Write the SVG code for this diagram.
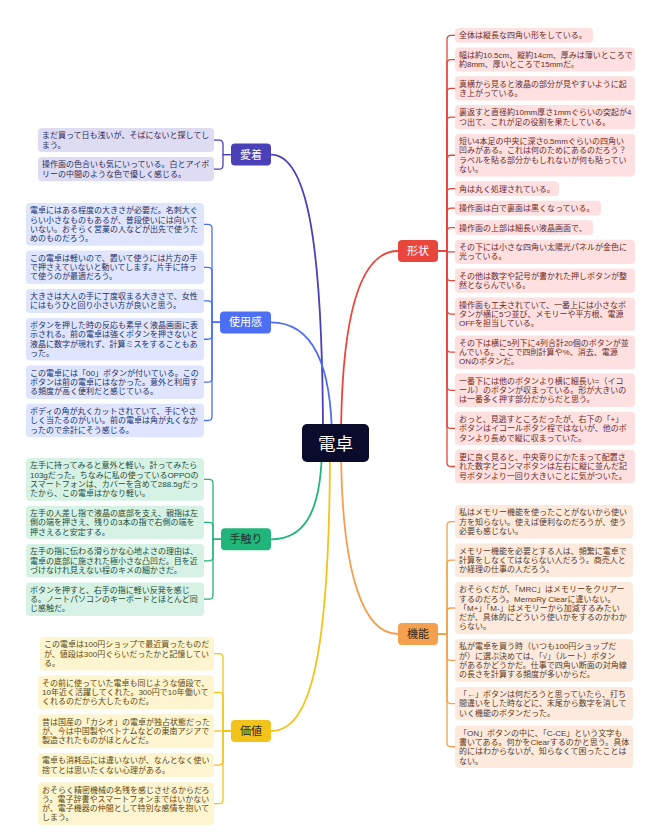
<svg xmlns="http://www.w3.org/2000/svg" width="654" height="836" viewBox="0 0 654 836">
<style>
text{font-family:"Noto Sans CJK JP","Noto Sans",sans-serif}
.lf text{font-family:"Liberation Sans","Noto Sans CJK JP",sans-serif;font-size:8px}
.cat{font-size:11px;text-anchor:middle}
.w{fill:#ffffff}.d{fill:#2a2a2a}
.r1{fill:#fde0df}.t1{fill:#6b2b2b}
.r2{fill:#fdeadc}.t2{fill:#5a3a1e}
.r3{fill:#dedcf3}.t3{fill:#2c2a55}
.r4{fill:#dfe5fd}.t4{fill:#22306a}
.r5{fill:#d5f2e5}.t5{fill:#1f4d3a}
.r6{fill:#fdf4d0}.t6{fill:#5a4a12}
.c{fill:none;stroke-width:1.3}
.m{fill:none;stroke-width:1.8}
.k1{stroke:#e8453c}.k2{stroke:#f3a04f}.k3{stroke:#4a40b8}.k4{stroke:#4d6ff5}.k5{stroke:#20b57a}.k6{stroke:#f2c31b}
</style>
<rect width="654" height="836" fill="#ffffff"/>
<g id="connectors">
<path class="m k3" d="M271 154.6 C305 154.6 323 230 323 443"/>
<path class="m k4" d="M271 322.4 C305 322.4 332 350 332 443"/>
<path class="m k1" d="M398 251 C365 251 341 300 341 443"/>
<path class="m k5" d="M271 539.3 C300 539.3 322 520 322 443"/>
<path class="m k6" d="M271 731 C310 731 330 660 330 443"/>
<path class="m k2" d="M398 634 C365 634 341 580 341 443"/>
<g class="c k3">
<path d="M231 154.6 H223 V144.05 Q223 140.05 219 140.05 H214"/>
<path d="M231 154.6 H223 V165.15 Q223 169.15 219 169.15 H214"/>
</g>
<g class="c k4">
<path d="M220 322.4 H212 V228.35 Q212 224.35 208 224.35 H204"/>
<path d="M220 322.4 H212 V271.3 Q212 267.3 208 267.3 H204"/>
<path d="M220 322.4 H212 V304.95 Q212 300.95 208 300.95 H204"/>
<path d="M220 322.4 H212 V335.25 Q212 339.25 208 339.25 H204"/>
<path d="M220 322.4 H212 V378.2 Q212 382.2 208 382.2 H204"/>
<path d="M220 322.4 H212 V416.5 Q212 420.5 208 420.5 H204"/>
</g>
<g class="c k5">
<path d="M221 539.3 H213 V483.35 Q213 479.35 209 479.35 H204"/>
<path d="M221 539.3 H213 V526.4 Q213 522.4 209 522.4 H204"/>
<path d="M221 539.3 H213 V556.8 Q213 560.8 209 560.8 H204"/>
<path d="M221 539.3 H213 V595.2 Q213 599.2 209 599.2 H204"/>
</g>
<g class="c k6">
<path d="M231 731 H223 V657.7 Q223 653.7 219 653.7 H214"/>
<path d="M231 731 H223 V696.3 Q223 692.3 219 692.3 H214"/>
<path d="M231 731 H214"/>
<path d="M231 731 H223 V761.05 Q223 765.05 219 765.05 H214"/>
<path d="M231 731 H223 V799.65 Q223 803.65 219 803.65 H214"/>
</g>
<g class="c k1">
<path d="M438 251 H447 V39.4 Q447 35.4 451 35.4 H455"/>
<path d="M438 251 H447 V63.55 Q447 59.55 451 59.55 H455"/>
<path d="M438 251 H447 V92.35 Q447 88.35 451 88.35 H455"/>
<path d="M438 251 H447 V121.15 Q447 117.15 451 117.15 H455"/>
<path d="M438 251 H447 V159.25 Q447 155.25 451 155.25 H455"/>
<path d="M438 251 H447 V192.7 Q447 188.7 451 188.7 H455"/>
<path d="M438 251 H447 V212.2 Q447 208.2 451 208.2 H455"/>
<path d="M438 251 H447 V231.7 Q447 227.7 451 227.7 H455"/>
<path d="M438 251 H447 V251.85 H455"/>
<path d="M438 251 H447 V276.65 Q447 280.65 451 280.65 H455"/>
<path d="M438 251 H447 V310.1 Q447 314.1 451 314.1 H455"/>
<path d="M438 251 H447 V348.2 Q447 352.2 451 352.2 H455"/>
<path d="M438 251 H447 V386.3 Q447 390.3 451 390.3 H455"/>
<path d="M438 251 H447 V424.4 Q447 428.4 451 428.4 H455"/>
<path d="M438 251 H447 V462.5 Q447 466.5 451 466.5 H455"/>
</g>
<g class="c k2">
<path d="M438 634 H447 V525.7 Q447 521.7 451 521.7 H455"/>
<path d="M438 634 H447 V564.2 Q447 560.2 451 560.2 H455"/>
<path d="M438 634 H447 V612 Q447 608 451 608 H455"/>
<path d="M438 634 H447 V656.45 Q447 660.45 451 660.45 H455"/>
<path d="M438 634 H447 V699.6 Q447 703.6 451 703.6 H455"/>
<path d="M438 634 H447 V742.75 Q447 746.75 451 746.75 H455"/>
</g>
</g>

<g id="root">
<rect x="302" y="424" width="67" height="38" rx="5" fill="#0b0b2c"/>
<text x="335.5" y="449.5" font-size="17.5" text-anchor="middle" fill="#ffffff">電卓</text>
</g>

<g id="cat-keijo"><rect x="398" y="240" width="40" height="22" rx="4" fill="#e8453c"/><text class="cat w" x="418" y="255">形状</text></g>
<g id="cat-kino"><rect x="398" y="623" width="40" height="22" rx="4" fill="#f3a04f"/><text class="cat d" x="418" y="638">機能</text></g>
<g id="cat-aichaku"><rect x="231" y="143.6" width="40" height="22" rx="4" fill="#4a40b8"/><text class="cat w" x="251" y="158.6">愛着</text></g>
<g id="cat-shiyokan"><rect x="220" y="311.4" width="51" height="22" rx="4" fill="#4d6ff5"/><text class="cat w" x="245.5" y="326.4">使用感</text></g>
<g id="cat-tezawari"><rect x="221" y="528.3" width="50" height="22" rx="4" fill="#20b57a"/><text class="cat d" x="246" y="543.3">手触り</text></g>
<g id="cat-kachi"><rect x="231" y="720" width="40" height="22" rx="4" fill="#f2c31b"/><text class="cat d" x="251" y="735">価値</text></g>

<!-- 形状 leaves -->
<g id="k1" class="lf t1"><rect class="r1" x="455" y="28" width="138" height="14.8" rx="4"/><text x="459" y="38.2">全体は縦長な四角い形をしている。</text></g>
<g id="k2" class="lf t1"><rect class="r1" x="455" y="47.5" width="180" height="24.1" rx="4"/><text y="57.7"><tspan x="459">幅は約10.5cm、縦約14cm、厚みは薄いところで</tspan><tspan x="459" dy="9.3">約8mm、厚いところで15mmだ。</tspan></text></g>
<g id="k3" class="lf t1"><rect class="r1" x="455" y="76.3" width="180" height="24.1" rx="4"/><text y="86.5"><tspan x="459">真横から見ると液晶の部分が見やすいように起</tspan><tspan x="459" dy="9.3">き上がっている。</tspan></text></g>
<g id="k4" class="lf t1"><rect class="r1" x="455" y="105.1" width="180" height="24.1" rx="4"/><text y="115.3"><tspan x="459">裏返すと直径約10mm厚さ1mmぐらいの突起が4</tspan><tspan x="459" dy="9.3">つ出て、これが足の役割を果たしている。</tspan></text></g>
<g id="k5" class="lf t1"><rect class="r1" x="455" y="133.9" width="180" height="42.7" rx="4"/><text y="144.1"><tspan x="459">短い4本足の中央に深さ0.5mmぐらいの四角い</tspan><tspan x="459" dy="9.3">凹みがある。これは何のためにあるのだろう？</tspan><tspan x="459" dy="9.3">ラベルを貼る部分かもしれないが何も貼ってい</tspan><tspan x="459" dy="9.3">ない。</tspan></text></g>
<g id="k6" class="lf t1"><rect class="r1" x="455" y="181.3" width="104" height="14.8" rx="4"/><text x="459" y="191.5">角は丸く処理されている。</text></g>
<g id="k7" class="lf t1"><rect class="r1" x="455" y="200.8" width="146" height="14.8" rx="4"/><text x="459" y="211">操作面は白で裏面は黒くなっている。</text></g>
<g id="k8" class="lf t1"><rect class="r1" x="455" y="220.3" width="138" height="14.8" rx="4"/><text x="459" y="230.5">操作面の上部は細長い液晶画面で、</text></g>
<g id="k9" class="lf t1"><rect class="r1" x="455" y="239.8" width="180" height="24.1" rx="4"/><text y="250"><tspan x="459">その下には小さな四角い太陽光パネルが金色に</tspan><tspan x="459" dy="9.3">光っている。</tspan></text></g>
<g id="k10" class="lf t1"><rect class="r1" x="455" y="268.6" width="180" height="24.1" rx="4"/><text y="278.8"><tspan x="459">その他は数字や記号が書かれた押しボタンが整</tspan><tspan x="459" dy="9.3">然とならんでいる。</tspan></text></g>
<g id="k11" class="lf t1"><rect class="r1" x="455" y="297.4" width="180" height="33.4" rx="4"/><text y="307.6"><tspan x="459">操作面も工夫されていて、一番上には小さなボ</tspan><tspan x="459" dy="9.3">タンが横に5つ並び、メモリーや平方根、電源</tspan><tspan x="459" dy="9.3">OFFを担当している。</tspan></text></g>
<g id="k12" class="lf t1"><rect class="r1" x="455" y="335.5" width="180" height="33.4" rx="4"/><text y="345.7"><tspan x="459">その下は横に5列下に4列合計20個のボタンが並</tspan><tspan x="459" dy="9.3">んでいる。ここで四則計算や%、消去、電源</tspan><tspan x="459" dy="9.3">ONのボタンだ。</tspan></text></g>
<g id="k13" class="lf t1"><rect class="r1" x="455" y="373.6" width="180" height="33.4" rx="4"/><text y="383.8"><tspan x="459">一番下には他のボタンより横に細長い=（イコ</tspan><tspan x="459" dy="9.3">ール）のボタンが収まっている。形が大きいの</tspan><tspan x="459" dy="9.3">は一番多く押す部分だからだと思う。</tspan></text></g>
<g id="k14" class="lf t1"><rect class="r1" x="455" y="411.7" width="180" height="33.4" rx="4"/><text y="421.9"><tspan x="459">おっと、見逃すところだったが、右下の「+」</tspan><tspan x="459" dy="9.3">ボタンはイコールボタン程ではないが、他のボ</tspan><tspan x="459" dy="9.3">タンより長めで縦に収まっていた。</tspan></text></g>
<g id="k15" class="lf t1"><rect class="r1" x="455" y="449.8" width="180" height="33.4" rx="4"/><text y="460"><tspan x="459">更に良く見ると、中央寄りにかたまって配置さ</tspan><tspan x="459" dy="9.3">れた数字とコンマボタンは左右に縦に並んだ記</tspan><tspan x="459" dy="9.3">号ボタンより一回り大きいことに気がついた。</tspan></text></g>

<!-- 機能 leaves -->
<g id="f1" class="lf t2"><rect class="r2" x="455" y="505" width="178" height="33.4" rx="4"/><text y="515.2"><tspan x="459">私はメモリー機能を使ったことがないから使い</tspan><tspan x="459" dy="9.3">方を知らない。使えば便利なのだろうが、使う</tspan><tspan x="459" dy="9.3">必要も感じない。</tspan></text></g>
<g id="f2" class="lf t2"><rect class="r2" x="455" y="543.5" width="178" height="33.4" rx="4"/><text y="553.7"><tspan x="459">メモリー機能を必要とする人は、頻繁に電卓で</tspan><tspan x="459" dy="9.3">計算をしなくてはならない人だろう。商売人と</tspan><tspan x="459" dy="9.3">か経理の仕事の人だろう。</tspan></text></g>
<g id="f3" class="lf t2"><rect class="r2" x="455" y="582" width="178" height="52" rx="4"/><text y="592.2"><tspan x="459">おそらくだが、「MRC」はメモリーをクリアー</tspan><tspan x="459" dy="9.3">するのだろう。MemoRy Clearに違いない。</tspan><tspan x="459" dy="9.3">「M+」「M-」はメモリーから加減するみたい</tspan><tspan x="459" dy="9.3">だが、具体的にどういう使いかをするのかわか</tspan><tspan x="459" dy="9.3">らない。</tspan></text></g>
<g id="f4" class="lf t2"><rect class="r2" x="455" y="639.1" width="178" height="42.7" rx="4"/><text y="649.3"><tspan x="459">私が電卓を買う時（いつも100円ショップだ</tspan><tspan x="459" dy="9.3">が）に選ぶ決めては、「√」（ルート）ボタン</tspan><tspan x="459" dy="9.3">があるかどうかだ。仕事で四角い断面の対角線</tspan><tspan x="459" dy="9.3">の長さを計算する頻度が多いからだ。</tspan></text></g>
<g id="f5" class="lf t2"><rect class="r2" x="455" y="686.9" width="178" height="33.4" rx="4"/><text y="697.1"><tspan x="459">「←」ボタンは何だろうと思っていたら、打ち</tspan><tspan x="459" dy="9.3">間違いをした時などに、末尾から数字を消して</tspan><tspan x="459" dy="9.3">いく機能のボタンだった。</tspan></text></g>
<g id="f6" class="lf t2"><rect class="r2" x="455" y="725.4" width="178" height="42.7" rx="4"/><text y="735.6"><tspan x="459">「ON」ボタンの中に、「C-CE」という文字も</tspan><tspan x="459" dy="9.3">書いてある。何かをClearするのかと思う。具体</tspan><tspan x="459" dy="9.3">的にはわからないが、知らなくて困ったことは</tspan><tspan x="459" dy="9.3">ない。</tspan></text></g>

<!-- 愛着 leaves -->
<g id="a1" class="lf t3"><rect class="r3" x="38" y="128" width="176" height="24.1" rx="4"/><text y="138.2"><tspan x="42">まだ買って日も浅いが、そばにないと探してし</tspan><tspan x="42" dy="9.3">まう。</tspan></text></g>
<g id="a2" class="lf t3"><rect class="r3" x="38" y="157.1" width="176" height="24.1" rx="4"/><text y="167.3"><tspan x="42">操作面の色合いも気にいっている。白とアイボ</tspan><tspan x="42" dy="9.3">リーの中間のような色で優しく感じる。</tspan></text></g>

<!-- 使用感 leaves -->
<g id="s1" class="lf t4"><rect class="r4" x="26" y="203" width="178" height="42.7" rx="4"/><text y="213.2"><tspan x="30">電卓にはある程度の大きさが必要だ。名刺大ぐ</tspan><tspan x="30" dy="9.3">らい小さなものもあるが、普段使いには向いて</tspan><tspan x="30" dy="9.3">いない。おそらく営業の人などが出先で使うた</tspan><tspan x="30" dy="9.3">めのものだろう。</tspan></text></g>
<g id="s2" class="lf t4"><rect class="r4" x="26" y="250.6" width="178" height="33.4" rx="4"/><text y="260.8"><tspan x="30">この電卓は軽いので、置いて使うには片方の手</tspan><tspan x="30" dy="9.3">で押さえていないと動いてします。片手に持っ</tspan><tspan x="30" dy="9.3">て使うのが最適だろう。</tspan></text></g>
<g id="s3" class="lf t4"><rect class="r4" x="26" y="288.9" width="178" height="24.1" rx="4"/><text y="299.1"><tspan x="30">大きさは大人の手に丁度収まる大きさで、女性</tspan><tspan x="30" dy="9.3">にはもうひと回り小さい方が良いと思う。</tspan></text></g>
<g id="s4" class="lf t4"><rect class="r4" x="26" y="317.9" width="178" height="42.7" rx="4"/><text y="328.1"><tspan x="30">ボタンを押した時の反応も素早く液晶画面に表</tspan><tspan x="30" dy="9.3">示される。前の電卓は強くボタンを押さないと</tspan><tspan x="30" dy="9.3">液晶に数字が現れず、計算ミスをすることもあ</tspan><tspan x="30" dy="9.3">った。</tspan></text></g>
<g id="s5" class="lf t4"><rect class="r4" x="26" y="365.5" width="178" height="33.4" rx="4"/><text y="375.7"><tspan x="30">この電卓には「00」ボタンが付いている。この</tspan><tspan x="30" dy="9.3">ボタンは前の電卓にはなかった。意外と利用す</tspan><tspan x="30" dy="9.3">る頻度が高く便利だと感じている。</tspan></text></g>
<g id="s6" class="lf t4"><rect class="r4" x="26" y="403.8" width="178" height="33.4" rx="4"/><text y="414"><tspan x="30">ボディの角が丸くカットされていて、手にやさ</tspan><tspan x="30" dy="9.3">しく当たるのがいい。前の電卓は角が丸くなか</tspan><tspan x="30" dy="9.3">ったので余計にそう感じる。</tspan></text></g>

<!-- 手触り leaves -->
<g id="h1" class="lf t5"><rect class="r5" x="26" y="458" width="178" height="42.7" rx="4"/><text y="468.2"><tspan x="30">左手に持ってみると意外と軽い。計ってみたら</tspan><tspan x="30" dy="9.3">103gだった。ちなみに私の使っているOPPOの</tspan><tspan x="30" dy="9.3">スマートフォンは、カバーを含めて288.5gだっ</tspan><tspan x="30" dy="9.3">たから、この電卓はかなり軽い。</tspan></text></g>
<g id="h2" class="lf t5"><rect class="r5" x="26" y="505.7" width="178" height="33.4" rx="4"/><text y="515.9"><tspan x="30">左手の人差し指で液晶の底部を支え、親指は左</tspan><tspan x="30" dy="9.3">側の端を押さえ、残りの3本の指で右側の端を</tspan><tspan x="30" dy="9.3">押さえると安定する。</tspan></text></g>
<g id="h3" class="lf t5"><rect class="r5" x="26" y="544.1" width="178" height="33.4" rx="4"/><text y="554.3"><tspan x="30">左手の指に伝わる滑らかな心地よさの理由は、</tspan><tspan x="30" dy="9.3">電卓の底部に施された極小さな凸凹だ。目を近</tspan><tspan x="30" dy="9.3">づけなけれ見えない程のキメの細かさだ。</tspan></text></g>
<g id="h4" class="lf t5"><rect class="r5" x="26" y="582.5" width="178" height="33.4" rx="4"/><text y="592.7"><tspan x="30">ボタンを押すと、右手の指に軽い反発を感じ</tspan><tspan x="30" dy="9.3">る。ノートパソコンのキーボードとほとんど同</tspan><tspan x="30" dy="9.3">じ感触だ。</tspan></text></g>

<!-- 価値 leaves -->
<g id="v1" class="lf t6"><rect class="r6" x="40" y="637" width="174" height="33.4" rx="4"/><text y="647.2"><tspan x="44">この電卓は100円ショップで最近買ったものだ</tspan><tspan x="44" dy="9.3">が、値段は300円ぐらいだったかと記憶してい</tspan><tspan x="44" dy="9.3">る。</tspan></text></g>
<g id="v2" class="lf t6"><rect class="r6" x="38" y="675.6" width="176" height="33.4" rx="4"/><text y="685.8"><tspan x="42">その前に使っていた電卓も同じような値段で、</tspan><tspan x="42" dy="9.3">10年近く活躍してくれた。300円で10年働いて</tspan><tspan x="42" dy="9.3">くれるのだから大したものだ。</tspan></text></g>
<g id="v3" class="lf t6"><rect class="r6" x="38" y="714.3" width="176" height="33.4" rx="4"/><text y="724.5"><tspan x="42">昔は国産の「カシオ」の電卓が独占状態だった</tspan><tspan x="42" dy="9.3">が、今は中国製やベトナムなどの東南アジアで</tspan><tspan x="42" dy="9.3">製造されたものがほとんどだ。</tspan></text></g>
<g id="v4" class="lf t6"><rect class="r6" x="38" y="753" width="176" height="24.1" rx="4"/><text y="763.2"><tspan x="42">電卓も消耗品には違いないが、なんとなく使い</tspan><tspan x="42" dy="9.3">捨てとは思いたくない心理がある。</tspan></text></g>
<g id="v5" class="lf t6"><rect class="r6" x="38" y="782.3" width="176" height="42.7" rx="4"/><text y="792.5"><tspan x="42">おそらく精密機械の名残を感じさせるからだろ</tspan><tspan x="42" dy="9.3">う。電子辞書やスマートフォンまではいかない</tspan><tspan x="42" dy="9.3">が、電子機器の仲間として特別な感情を抱いて</tspan><tspan x="42" dy="9.3">しまう。</tspan></text></g>
</svg>
